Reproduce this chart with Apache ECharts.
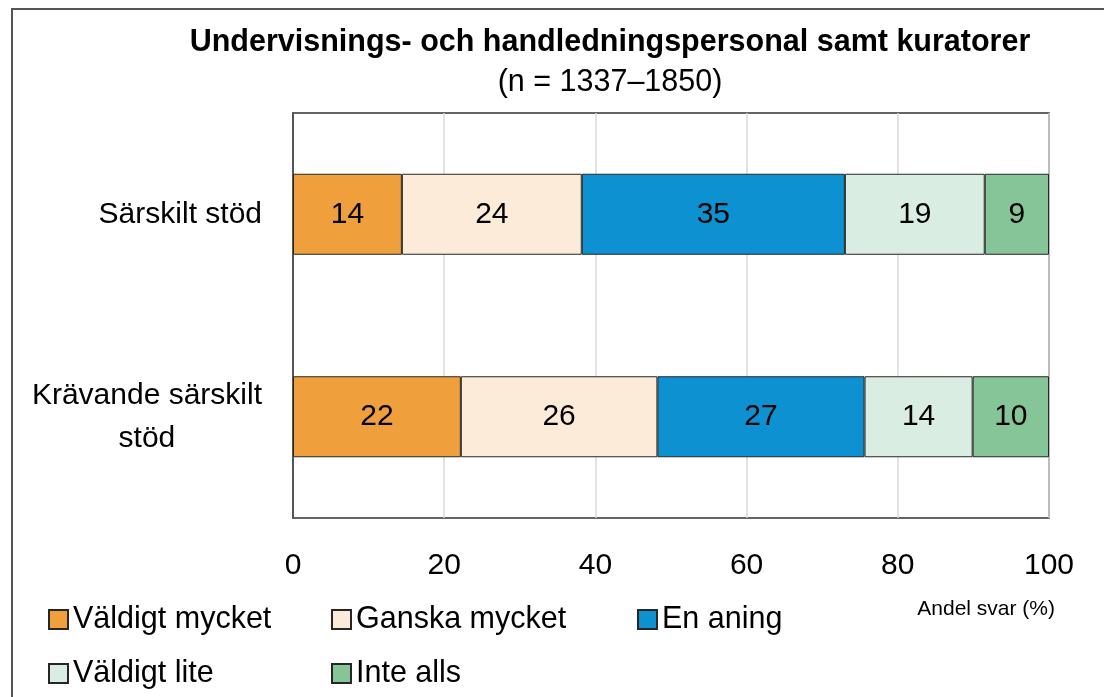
<!DOCTYPE html>
<html lang="sv">
<head>
    <meta charset="UTF-8"/>
    <title>Undervisnings- och handledningspersonal samt kuratorer</title>
    <script src="https://cdn.jsdelivr.net/npm/echarts@6/dist/echarts.min.js"></script>
    <style>
        html, body {margin: 0; padding: 0; background: #fff;}
        .frame {position: absolute; left: 11px; top: 8px; width: 1200px; height: 800px;
            border-top: 2px solid #555; border-left: 2px solid #555;}
        #chart {position: absolute; left: 0; top: 0; width: 1104px; height: 697px;}
    </style>
</head>
<body>
<div class="frame"></div>
<div id="chart"></div>
<script type="text/javascript">
    // data (percent of answers)
    var categories = ["Särskilt stöd", "Krävande särskilt\nstöd"];
    var seriesNames = ["Väldigt mycket", "Ganska mycket", "En aning", "Väldigt lite", "Inte alls"];
    var valdigtMycket = [14.4, 22.2];
    var ganskaMycket = [23.8, 26.0];
    var enAning = [34.8, 27.4];
    var valdigtLite = [18.5, 14.3];
    var inteAlls = [8.5, 10.1];
    var xTicks = [0, 20, 40, 60, 80, 100];

    var colors = ["#EFA03D", "#FCEBD8", "#0E91D0", "#DAEDE2", "#86C598"];
    var font = "'Liberation Sans', Arial, sans-serif";
    var values = [valdigtMycket, ganskaMycket, enAning, valdigtLite, inteAlls];

    var series = [];
    for (var i = 0; i < seriesNames.length; i++) {
        series.push({
            name: seriesNames[i],
            type: "bar",
            stack: "total",
            barWidth: "40%",
            data: values[i],
            itemStyle: {color: colors[i], borderColor: "#262626", borderWidth: 1},
            label: {
                show: true,
                position: "inside",
                color: "#000",
                fontFamily: font,
                fontSize: 30,
                formatter: function (p) {
                    return Math.round(p.value);
                }
            }
        });
    }

    function legendBox(names, left) {
        return {
            data: names,
            orient: "vertical",
            left: left,
            top: 604,
            padding: 0,
            itemGap: 23,
            itemWidth: 19,
            itemHeight: 19,
            icon: "rect",
            textStyle: {fontFamily: font, fontSize: 30.5, color: "#000"}
        };
    }

    var chart = echarts.init(document.getElementById("chart"));
    chart.setOption({
        animation: false,
        title: [
            {
                text: "Undervisnings- och handledningspersonal samt kuratorer",
                subtext: "(n = 1337–1850)",
                left: 605,
                textAlign: "center",
                top: 22,
                itemGap: 9,
                textStyle: {fontFamily: font, fontSize: 30.5, fontWeight: "bold", color: "#000"},
                subtextStyle: {fontFamily: font, fontSize: 30.5, color: "#000"}
            },
            {
                text: "Andel svar (%)",
                right: 44,
                top: 594,
                textStyle: {fontFamily: font, fontSize: 21, fontWeight: "normal", color: "#000"}
            }
        ],
        legend: [
            legendBox([seriesNames[0], seriesNames[3]], 48),
            legendBox([seriesNames[1], seriesNames[4]], 331),
            legendBox([seriesNames[2]], 637)
        ],
        grid: {
            left: 293,
            right: 55,
            top: 113,
            bottom: 179,
            show: true,
            borderColor: "#333",
            borderWidth: 1.5,
            containLabel: false
        },
        xAxis: {
            type: "value",
            min: xTicks[0],
            max: xTicks[xTicks.length - 1],
            interval: 20,
            axisLine: {show: false},
            axisTick: {show: false},
            axisLabel: {fontFamily: font, fontSize: 30, color: "#000", margin: 33},
            splitLine: {lineStyle: {color: "#d9d9d9", width: 1.5}}
        },
        yAxis: {
            type: "category",
            inverse: true,
            data: categories,
            axisLine: {show: true, lineStyle: {color: "#333", width: 1.5}},
            axisTick: {show: false},
            axisLabel: {
                margin: 31,
                formatter: function (v) {
                    return v.split("\n").map(function (s) {
                        return "{c|" + s + "}";
                    }).join("\n");
                },
                rich: {
                    c: {align: "center", fontFamily: font, fontSize: 30, color: "#000", lineHeight: 43}
                }
            }
        },
        series: series
    });
</script>
</body>
</html>
